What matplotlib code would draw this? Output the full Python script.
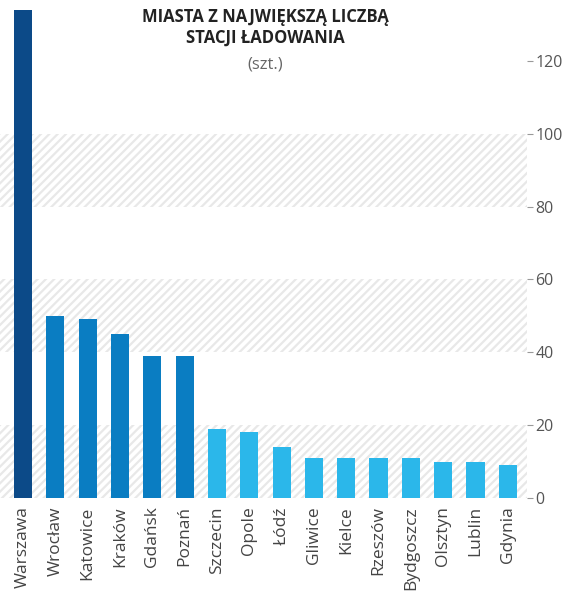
import matplotlib
matplotlib.use("Agg")
import matplotlib.pyplot as plt

plt.rcParams['font.family'] = ['Open Sans', 'DejaVu Sans']
plt.rcParams['hatch.linewidth'] = 1.6

cities = ["Warszawa", "Wrocław", "Katowice", "Kraków", "Gdańsk", "Poznań",
          "Szczecin", "Opole", "Łódź", "Gliwice", "Kielce", "Rzeszów",
          "Bydgoszcz", "Olsztyn", "Lublin", "Gdynia"]
values = [134, 50, 49, 45, 39, 39, 19, 18, 14, 11, 11, 11, 11, 10, 10, 9]
tiers = [0, 1, 1, 1, 1, 1, 2, 2, 2, 2, 2, 2, 2, 2, 2, 2]
tier_colors = ["#0c4a88", "#0a7dc2", "#2bb7ea"]
yticks = [0, 20, 40, 60, 80, 100, 120]
bands = [(0, 20), (40, 60), (80, 100)]

fig = plt.figure(figsize=(5.70, 5.99), dpi=100)
ax = fig.add_axes([0.0, 0.1686, 0.925, 0.815])

for lo, hi in bands:
    ax.axhspan(lo, hi, facecolor='none', edgecolor='#e8e8e8', hatch='////', linewidth=0, zorder=0)

x = list(range(len(cities)))
ax.bar(x, values, width=0.56, color=[tier_colors[t] for t in tiers], zorder=2)

ax.set_xlim(-0.71, 15.6)
ax.set_ylim(0, 134)
ax.yaxis.tick_right()
ax.set_yticks(yticks)
ax.set_yticklabels([str(v) for v in yticks], fontsize=11.5, color='#555555')
ax.tick_params(axis='y', length=4, width=0.8, color='#999999', pad=2, direction='out')
ax.set_xticks(x)
ax.set_xticklabels(cities, rotation=90, fontsize=12.5, color='#444444')
ax.tick_params(axis='x', length=0, pad=6)
for s in ax.spines.values():
    s.set_visible(False)

fig.text(0.465, 0.987, "MIASTA Z NAJWIĘKSZĄ LICZBĄ\nSTACJI ŁADOWANIA", ha='center', va='top',
         fontsize=12, fontweight='bold', color='#222222', linespacing=1.2)
fig.text(0.465, 0.906, "(szt.)", ha='center', va='top', fontsize=12, color='#666666')

fig.savefig("out.png", dpi=100)
